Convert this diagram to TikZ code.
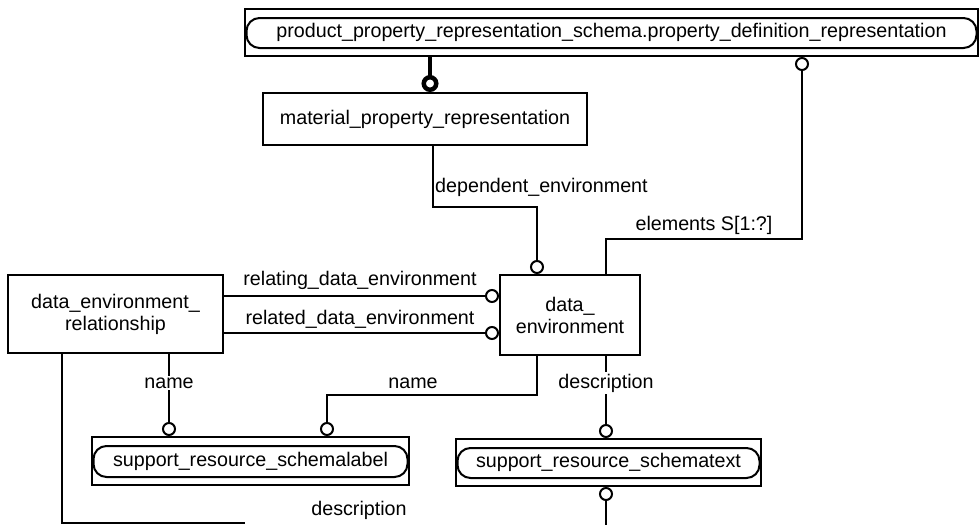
\documentclass[tikz,border=0pt]{standalone}
\usepackage{fontspec}
\setmainfont{Liberation Sans}
\usetikzlibrary{arrows.meta}
\newcommand{\rndin}[1]{\draw[line width=2pt, rounded corners=13pt] ([xshift=2.5pt,yshift=-10pt]#1.north west) rectangle ([xshift=-2.5pt,yshift=9pt]#1.south east);}
\begin{document}
\begin{tikzpicture}[x=1pt,y=-1pt,
  every node/.style={font=\fontsize{19.7}{22}\selectfont, inner sep=0pt},
  box/.style={draw, line width=2pt, align=center},
  conn/.style={line width=2pt},
  ring/.style={-{Circle[open,length=14pt,width=14pt]}},
  thickring/.style={line width=4.5pt,-{Circle[open,length=17pt,width=17pt]}},
  lbl/.style={fill=white, inner sep=2pt}]
\useasboundingbox (0,0) rectangle (980,525);

% entities
\node[box, minimum width=733pt, minimum height=47pt] (ppr) at (611.5,32.5)
  {product\_property\_representation\_schema.property\_definition\_representation};
\rndin{ppr}
\node[box, minimum width=324pt, minimum height=52pt] (mpr) at (425,119)
  {material\_property\_representation};
\node[box, minimum width=140pt, minimum height=80pt] (de) at (570,315)
  {data\_\\environment};
\node[box, minimum width=215pt, minimum height=78pt] (der) at (115.5,314)
  {data\_environment\_\\relationship};
\node[box, minimum width=317pt, minimum height=48pt] (srl) at (250.5,461)
  {support\_resource\_schemalabel};
\rndin{srl}
\node[box, minimum width=305pt, minimum height=47pt] (srt) at (608.5,462.5)
  {support\_resource\_schematext};
\rndin{srt}

% helper coordinates
\coordinate (x430) at (430,0);
\coordinate (e1) at (606,239);
\coordinate (e2) at (802,239);
\coordinate (d1) at (433,207);
\coordinate (d2) at (537,207);
\coordinate (r1) at (0,296);
\coordinate (r2) at (0,333);
\coordinate (n1) at (169,0);
\coordinate (m1) at (537,395);
\coordinate (m2) at (327,395);
\coordinate (x606) at (606,0);
\coordinate (b0) at (62,523);
\coordinate (b2) at (245,523);
\coordinate (b1) at (606,525);

% subtype
\draw[thickring] (ppr.south -| x430) -- (mpr.north -| x430);

% elements
\draw[conn, ring] (de.north -| e1) -- (e1) -- (e2) -- (ppr.south -| e2);
\node at (704,225) {elements S[1:?]};

% dependent_environment
\draw[conn, ring] (mpr.south -| d1) -- (d1) -- (d2) -- (de.north -| d2);
\node[anchor=west] at (435,187) {dependent\_environment};

% relating / related
\draw[conn, ring] (der.east |- r1) -- (de.west |- r1);
\node at (360,280) {relating\_data\_environment};
\draw[conn, ring] (der.east |- r2) -- (de.west |- r2);
\node at (360,319) {related\_data\_environment};

% name (relationship)
\draw[conn, ring] (der.south -| n1) -- (srl.north -| n1);
\node[lbl] at (169,383) {name};

% name (data_environment)
\draw[conn, ring] (de.south -| m1) -- (m1) -- (m2) -- (srl.north -| m2);
\node at (413,383) {name};

% description (data_environment)
\draw[conn, ring] (de.south -| x606) -- (srt.north -| x606);
\node[lbl] at (606,383) {description};

% description (relationship)
\draw[conn] (der.south -| b0) -- (b0) -- (b2);
\draw[conn, {Circle[open,length=14pt,width=14pt]}-] (srt.south -| x606) -- (b1);
\node at (359,510) {description};
\end{tikzpicture}
\end{document}
